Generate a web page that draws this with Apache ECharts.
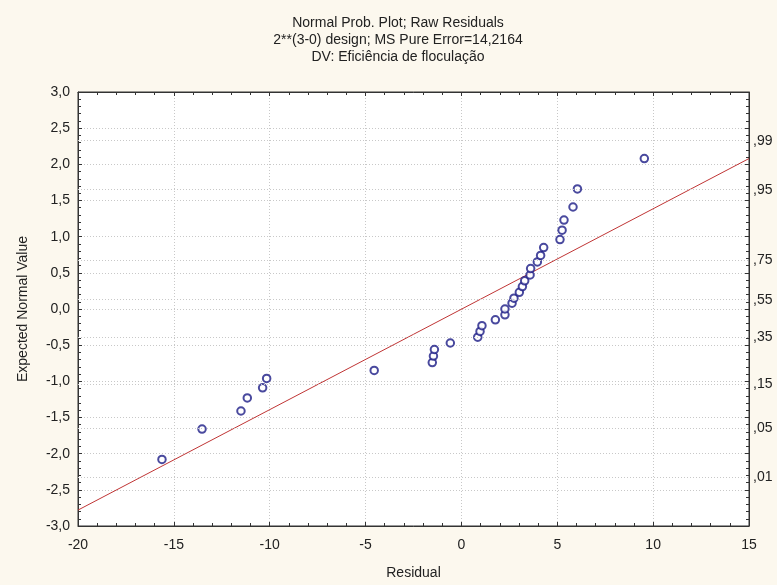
<!DOCTYPE html>
<html>
<head>
<meta charset="utf-8">
<script src="https://cdn.jsdelivr.net/npm/echarts@6/dist/echarts.min.js"></script>
<style>
html,body{margin:0;padding:0;background:#FCF8EE;}
#c{width:777px;height:585px;}
</style>
</head>
<body>
<div id="c"></div>
<script>
// Raw residuals (sorted) and their expected normal values
const residuals = [-15.62, -13.53, -11.5, -11.17, -10.37, -10.16, -4.55, -1.52, -1.46, -1.41, -0.58, 0.85, 0.97, 1.07, 1.77, 2.27, 2.27, 2.64, 2.74, 3.02, 3.18, 3.30, 3.58, 3.61, 3.96, 4.13, 4.29, 5.14, 5.25, 5.35, 5.82, 6.05, 9.54];
const expectedNormal = [-2.08, -1.66, -1.41, -1.23, -1.09, -0.96, -0.85, -0.74, -0.65, -0.56, -0.47, -0.39, -0.31, -0.23, -0.15, -0.08, 0.0, 0.08, 0.15, 0.23, 0.31, 0.39, 0.47, 0.56, 0.65, 0.74, 0.85, 0.96, 1.09, 1.23, 1.41, 1.66, 2.08];
// Reference line end points
const lineX = [-20, 15];
const lineY = [-2.78, 2.08];
// Right-hand probability axis
const probLabels = [',01', ',05', ',15', ',35', ',55', ',75', ',95', ',99'];
const probPos = [-2.326, -1.645, -1.036, -0.385, 0.126, 0.674, 1.645, 2.326];
// Titles
const titleLines = ['Normal Prob. Plot; Raw Residuals', '2**(3-0) design; MS Pure Error=14,2164', 'DV: Eficiência de floculação'];
const xName = 'Residual';
const yName = 'Expected Normal Value';

const FONT = "'Liberation Sans', Arial, sans-serif";
const FS = 14;
const txt = '#222';
const gridColor = '#c8c8c8';

const chart = echarts.init(document.getElementById('c'), null, {renderer: 'canvas'});

const fmtComma = v => v.toFixed(1).replace('.', ',');
const fmtX = v => String(Math.round(v));

const tickCommon = {show: true, inside: true, length: 4, lineStyle: {color: '#333'}};
const minorCommon = {show: true, splitNumber: 5, length: 3, lineStyle: {color: '#333'}};
const axisLineCommon = {show: true, onZero: false, lineStyle: {color: '#333'}};

const option = {
  backgroundColor: '#FCF8EE',
  animation: false,
  graphic: titleLines.map((t, i) => ({
    type: 'text', x: 398, y: 16 + i * 17,
    style: {text: t, font: FS + 'px ' + FONT, fill: txt, align: 'center', verticalAlign: 'top'}
  })),
  grid: {left: 78, right: 28, top: 92, bottom: 56, show: true, backgroundColor: '#ffffff', borderColor: '#333', borderWidth: 1, containLabel: false},
  xAxis: [{
    type: 'value', min: -20, max: 15, interval: 5, position: 'bottom',
    name: xName, nameLocation: 'middle', nameGap: 40,
    nameTextStyle: {fontFamily: FONT, fontSize: FS, color: txt},
    axisLine: axisLineCommon,
    axisTick: tickCommon, minorTick: minorCommon,
    axisLabel: {fontFamily: FONT, fontSize: FS, color: txt, margin: 12, formatter: fmtX},
    splitLine: {show: true, lineStyle: {color: gridColor, type: [1, 2]}}
  }, {
    type: 'value', min: -20, max: 15, interval: 5, position: 'top',
    axisLine: axisLineCommon,
    axisTick: tickCommon, minorTick: minorCommon,
    axisLabel: {show: false}, splitLine: {show: false}
  }],
  yAxis: [{
    type: 'value', min: -3, max: 3, interval: 0.5, position: 'left',
    name: yName, nameLocation: 'middle', nameGap: 48, nameRotate: 90,
    nameTextStyle: {fontFamily: FONT, fontSize: FS, color: txt},
    axisLine: axisLineCommon,
    axisTick: tickCommon, minorTick: minorCommon,
    axisLabel: {fontFamily: FONT, fontSize: FS, color: txt, margin: 8, formatter: fmtComma},
    splitLine: {show: true, lineStyle: {color: gridColor, type: [1, 2]}}
  }, {
    type: 'value', min: -3, max: 3, interval: 0.5, position: 'right',
    axisLine: axisLineCommon,
    axisTick: tickCommon, minorTick: minorCommon,
    axisLabel: {fontFamily: FONT, fontSize: FS, color: txt, margin: 4,
      customValues: probPos,
      formatter: v => { const k = probPos.findIndex(p => Math.abs(p - v) < 1e-6); return k >= 0 ? probLabels[k] : ''; }},
    splitLine: {show: false}
  }],
  series: [{
    type: 'line', xAxisIndex: 0, yAxisIndex: 0,
    data: lineX.map((x, i) => [x, lineY[i]]),
    showSymbol: false, symbol: 'none',
    lineStyle: {color: '#c03535', width: 1},
    silent: true, z: 3,
    markLine: {
      silent: true, symbol: 'none', label: {show: false},
      lineStyle: {color: gridColor, type: [1, 2], width: 1},
      data: probPos.map(p => ({yAxis: p}))
    }
  }, {
    type: 'scatter', xAxisIndex: 0, yAxisIndex: 0,
    data: residuals.map((r, i) => [r, expectedNormal[i]]),
    symbol: 'emptyCircle', symbolSize: 7.5,
    itemStyle: {color: '#1c1c86', borderWidth: 1.1},
    z: 4
  }]
};
chart.setOption(option);
</script>
</body>
</html>
